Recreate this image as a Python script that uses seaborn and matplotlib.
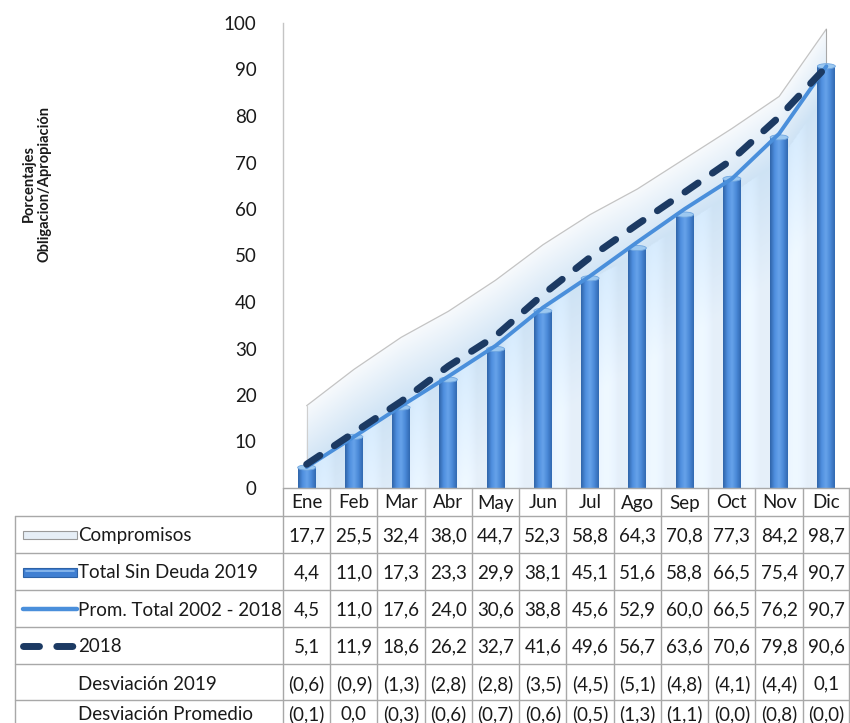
import numpy as np
import pandas as pd
import matplotlib
matplotlib.use("Agg")
import matplotlib.pyplot as plt
import seaborn as sns
from matplotlib.patches import Polygon, Ellipse, Rectangle
from matplotlib.colors import LinearSegmentedColormap

# ---- data -------------------------------------------------------------
meses = ["Ene", "Feb", "Mar", "Abr", "May", "Jun",
         "Jul", "Ago", "Sep", "Oct", "Nov", "Dic"]
compromisos = [17.7, 25.5, 32.4, 38.0, 44.7, 52.3, 58.8, 64.3, 70.8, 77.3, 84.2, 98.7]
total_sin_deuda_2019 = [4.4, 11.0, 17.3, 23.3, 29.9, 38.1, 45.1, 51.6, 58.8, 66.5, 75.4, 90.7]
prom_total_2002_2018 = [4.5, 11.0, 17.6, 24.0, 30.6, 38.8, 45.6, 52.9, 60.0, 66.5, 76.2, 90.7]
serie_2018 = [5.1, 11.9, 18.6, 26.2, 32.7, 41.6, 49.6, 56.7, 63.6, 70.6, 79.8, 90.6]
desviacion_2019 = ["(0,6)", "(0,9)", "(1,3)", "(2,8)", "(2,8)", "(3,5)",
                   "(4,5)", "(5,1)", "(4,8)", "(4,1)", "(4,4)", "0,1"]
desviacion_promedio = ["(0,1)", "0,0", "(0,3)", "(0,6)", "(0,7)", "(0,6)",
                       "(0,5)", "(1,3)", "(1,1)", "(0,0)", "(0,8)", "(0,0)"]
yticks = [0, 10, 20, 30, 40, 50, 60, 70, 80, 90, 100]

df = pd.DataFrame({
    "mes": meses,
    "compromisos": compromisos,
    "total": total_sin_deuda_2019,
    "prom": prom_total_2002_2018,
    "s2018": serie_2018,
})
df["pos"] = np.arange(len(meses))

# ---- styling -----------------------------------------------------------
sns.set_theme(style="white")
plt.rcParams["font.family"] = ["Lato", "DejaVu Sans"]
TXT = "#1a1a1a"
GRID = "#a8a8a8"
BAR = "#3f7fd2"
PROM = "#4a8fdb"
NAVY = "#1c3a63"
FS = 13.5

W, H = 850, 723
fig = plt.figure(figsize=(W / 100, H / 100), dpi=100)
fig.patch.set_facecolor("white")


def rect(x0, y0, x1, y1):
    return [x0 / W, 1 - y1 / H, (x1 - x0) / W, (y1 - y0) / H]


X0, X1 = 283, 850          # plot / table columns span
Y_TOP, Y_ZERO = 23, 488    # pixel rows of 100 and 0
ax = fig.add_axes(rect(X0, Y_TOP, X1, Y_ZERO))
ax.set_facecolor("none")

# ---- bars (Total Sin Deuda 2019) --------------------------------------
sns.barplot(data=df, x="mes", y="total", color=BAR, saturation=1,
            width=0.38, ax=ax, zorder=3, linewidth=0)
bar_patches = list(ax.patches)

ax.set_xlim(-0.5, len(meses) - 0.5)
ax.set_ylim(0, 100)

# cylinder shading on each bar
shade = LinearSegmentedColormap.from_list(
    "cyl", ["#2f64a8", "#4e8ede", "#67a3ea", "#4a89d8", "#3169b0"])
grad = np.linspace(0, 1, 64).reshape(1, -1)
for p in bar_patches:
    x, w, h = p.get_x(), p.get_width(), p.get_height()
    im = ax.imshow(grad, cmap=shade, aspect="auto", extent=(x, x + w, 0, h),
                   origin="lower", zorder=3.1, interpolation="bicubic")
    im.set_clip_path(p)
    ax.add_patch(Ellipse((x + w / 2, h), w, 1.1, facecolor="#9cc8f0",
                         edgecolor="#6fa6e0", lw=0.6, zorder=3.2))

# ---- area (Compromisos) with soft gradient -----------------------------
pos = df["pos"].to_numpy()
comp = df["compromisos"].to_numpy()
verts = [(pos[0], 0)] + list(zip(pos, comp)) + [(pos[-1], 0)]
area = Polygon(verts, closed=True, facecolor="none", edgecolor="none",
               transform=ax.transData)
ax.add_patch(area)

gx = np.linspace(-0.5, len(meses) - 0.5, 700)
gy = np.linspace(0, 100, 500)
GX, GY = np.meshgrid(gx, gy)
top = np.interp(GX, pos, comp)
d = top - GY
t1 = np.clip(d / 14.0, 0, 1)
t2 = np.clip((d - 14) / 25.0, 0, 1)
white = np.array([0.97, 0.98, 0.99])
blue = np.array([0.81, 0.89, 0.96])
low = np.array([0.90, 0.94, 0.98])
rgb = (white[None, None, :] * (1 - t1[..., None]) + blue[None, None, :] * t1[..., None])
rgb = rgb * (1 - t2[..., None]) + low[None, None, :] * t2[..., None]
# faint vertical bands between the columns
phase = (GX - np.round(GX))
band = 0.035 * np.clip(np.cos(2 * np.pi * (phase - 0.35)), 0, 1) * (t2 > 0)
rgb = np.clip(rgb + band[..., None], 0, 1)
img = ax.imshow(rgb, extent=(gx[0], gx[-1], 0, 100), origin="lower",
                aspect="auto", zorder=1, interpolation="bilinear")
img.set_clip_path(area)
ax.plot(pos, comp, color="#c4c4c4", lw=0.9, zorder=1.5)
ax.plot([pos[0], pos[0]], [0, comp[0]], color="#cfcfcf", lw=0.8, zorder=1.5)
ax.plot([pos[-1], pos[-1]], [0, comp[-1]], color="#a8a8a8", lw=0.8, zorder=1.5)

# ---- lines --------------------------------------------------------------
sns.lineplot(data=df, x="pos", y="prom", color=PROM, lw=2.8, ax=ax,
             zorder=4, solid_capstyle="round")
sns.lineplot(data=df, x="pos", y="s2018", color=NAVY, lw=5.0, ax=ax,
             zorder=5, linestyle=(0, (2.3, 2.5)), dash_capstyle="round")

ax.set_xlim(-0.5, len(meses) - 0.5)
ax.set_ylim(0, 100)
ax.set_xticks([])
ax.set_yticks(yticks)
ax.set_yticklabels([str(v) for v in yticks], fontsize=FS, color=TXT)
ax.tick_params(axis="y", length=0, pad=19)
ax.set_xlabel("")
ax.set_ylabel("")
for s in ["top", "right", "bottom"]:
    ax.spines[s].set_visible(False)
ax.spines["left"].set_color("#c4c4c4")
ax.spines["left"].set_linewidth(1.0)

fig.text(37 / W, 1 - 184 / H, "Porcentajes\nObligacion/Apropiación",
         rotation=90, ha="center", va="center", fontsize=10.5,
         fontweight="bold", color=TXT, linespacing=1.15)

# ---- data table ---------------------------------------------------------
tab = fig.add_axes([0, 0, 1, 1], zorder=6)
tab.set_xlim(0, W)
tab.set_ylim(H, 0)
tab.axis("off")
tab.patch.set_alpha(0)

col_w = (X1 - X0) / len(meses)
row_lines = [Y_ZERO, 516, 553, 590, 627, 664, 700]
LEFT = 15
# horizontal rules
tab.plot([X0, X1], [row_lines[0]] * 2, color=GRID, lw=1.0)
for yl in row_lines[1:]:
    tab.plot([LEFT, X1], [yl, yl], color=GRID, lw=1.0)
# vertical rules
for i in range(len(meses) + 1):
    xv = min(X0 + i * col_w, X1 - 0.5)
    tab.plot([xv, xv], [row_lines[0], H], color=GRID, lw=1.0)
tab.plot([LEFT, LEFT], [row_lines[1], H], color=GRID, lw=1.0)

# month header
for i, m in enumerate(meses):
    tab.text(X0 + (i + 0.5) * col_w, (row_lines[0] + row_lines[1]) / 2 + 1, m,
             ha="center", va="center", fontsize=FS, color=TXT)


def fmt(v):
    return f"{v:.1f}".replace(".", ",")


rows = [
    ("Compromisos", [fmt(v) for v in compromisos]),
    ("Total Sin Deuda 2019", [fmt(v) for v in total_sin_deuda_2019]),
    ("Prom. Total 2002 - 2018", [fmt(v) for v in prom_total_2002_2018]),
    ("2018", [fmt(v) for v in serie_2018]),
    ("Desviación 2019", desviacion_2019),
    ("Desviación Promedio", desviacion_promedio),
]
row_centers = [535, 572, 609, 646, 683, 713]
LABEL_X = 78
for (label, vals), yc in zip(rows, row_centers):
    tab.text(LABEL_X, yc + 1, label, ha="left", va="center",
             fontsize=FS, color=TXT)
    for i, v in enumerate(vals):
        tab.text(X0 + (i + 0.5) * col_w, yc + 1, v, ha="center", va="center",
                 fontsize=FS, color=TXT)

# legend keys inside the table
kc = row_centers
# Compromisos: pale gradient strip
key = Rectangle((23, kc[0] - 4), 54, 8, facecolor="#e6eef6",
                edgecolor="#9a9a9a", lw=0.8)
tab.add_patch(key)
# Total Sin Deuda 2019: blue bar strip
key2 = Rectangle((23, kc[1] - 4.5), 54, 9, facecolor=BAR,
                 edgecolor="#2d62a6", lw=0.8)
tab.add_patch(key2)
tab.plot([26, 74], [kc[1] - 1.5, kc[1] - 1.5], color="#8fbdf0", lw=1.2)
# Prom. Total line
tab.plot([23, 77], [kc[2], kc[2]], color=PROM, lw=3.2, solid_capstyle="round")
# 2018 dashed line
tab.plot([23, 77], [kc[3], kc[3]], color=NAVY, lw=5.0,
         linestyle=(0, (2.3, 2.5)), dash_capstyle="round")

fig.savefig("out.png", dpi=100, facecolor="white")
